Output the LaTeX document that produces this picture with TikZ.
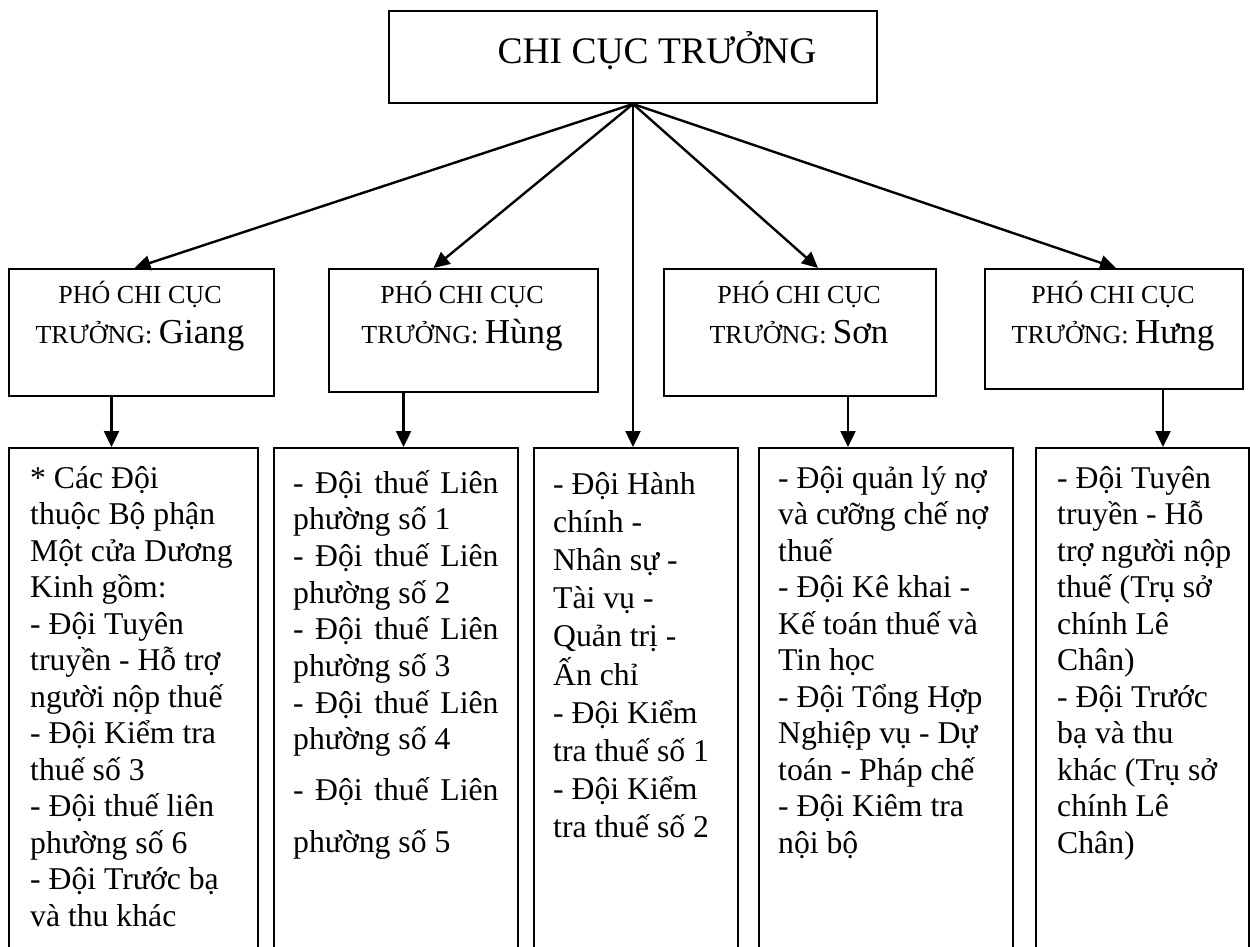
\documentclass[tikz,border=0pt]{standalone}
\usepackage{fontspec}
\setmainfont{Liberation Serif}
\usetikzlibrary{arrows.meta,calc}
\newcommand\labtext[1]{\vtop{\hsize=300pt\centering\fontsize{26}{40}\selectfont PHÓ CHI CỤC\par TRƯỞNG: {\fontsize{35}{40}\selectfont #1}\par}}
\newcommand\blk[2]{\vtop{\hsize=300pt\raggedright\fontsize{31.7}{#1}\selectfont #2\par}}
\newcommand\dtl{-\hspace{11.5pt}Đội\hspace{11.5pt}thuế\hspace{11.5pt}Liên}
\begin{document}
\begin{tikzpicture}[x=1pt,y=-1pt,
  box/.style={draw,line width=2pt,rectangle,inner sep=0pt,anchor=north west},
  arr/.style={line width=2.4pt,-{Triangle[length=16pt,width=15pt]}},
  lab/.style={inner sep=0pt,anchor=base},
  txt/.style={inner sep=0pt,anchor=base west}]
\useasboundingbox (0,0) rectangle (1250,946);
\fill[white] (0,0) rectangle (1250,946);
% top box
\node[box,minimum width=488pt,minimum height=92pt] (top) at (388,10) {};
\node[lab] (toptext) at (657,63) {\fontsize{37.5}{44}\selectfont CHI CỤC TRƯỞNG};
% deputy boxes
\node[box,minimum width=265pt,minimum height=127pt] (giang) at (8,268) {};
\node[box,minimum width=269pt,minimum height=123pt] (hung) at (328,268) {};
\node[box,minimum width=272pt,minimum height=127pt] (son) at (663,268) {};
\node[box,minimum width=258pt,minimum height=120pt] (hung2) at (984,268) {};
\node[lab] (lgiang) at (140,303) {\labtext{Giang}};
\node[lab] (lhung) at (462,303) {\labtext{Hùng}};
\node[lab] (lson) at (799,303) {\labtext{Sơn}};
\node[lab] (lhung2) at (1113,303) {\labtext{Hưng}};
% bottom boxes
\node[box,minimum width=249pt,minimum height=520pt] (b1) at (8,447) {};
\node[box,minimum width=244pt,minimum height=520pt] (b2) at (273,447) {};
\node[box,minimum width=204pt,minimum height=520pt] (b3) at (533,447) {};
\node[box,minimum width=254pt,minimum height=520pt] (b4) at (758,447) {};
\node[box,minimum width=213pt,minimum height=520pt] (b5) at (1035,447) {};
% texts
\node[txt] (t1) at (30,488) {\blk{36.5}{* Các Đội\\thuộc Bộ phận\\Một cửa Dương\\Kinh gồm:\\- Đội Tuyên\\truyền - Hỗ trợ\\người nộp thuế\\- Đội Kiểm tra\\thuế số 3\\- Đội thuế liên\\phường số 6\\- Đội Trước bạ\\và thu khác}};
\node[txt] (t2) at (293,493) {\blk{36.7}{\dtl\\phường số 1\\\dtl\\phường số 2\\\dtl\\phường số 3\\\dtl\\phường số 4\\[14pt]\dtl\\[15pt]phường số 5}};
\node[txt] (t3) at (553,494) {\blk{38.2}{- Đội Hành\\chính -\\Nhân sự -\\Tài vụ -\\Quản trị -\\Ấn chỉ\\- Đội Kiểm\\tra thuế số 1\\- Đội Kiểm\\tra thuế số 2}};
\node[txt] (t4) at (778,488) {\blk{36.5}{- Đội quản lý nợ\\và cưỡng chế nợ\\thuế\\- Đội Kê khai -\\Kế toán thuế và\\Tin học\\- Đội Tổng Hợp\\Nghiệp vụ - Dự\\toán - Pháp chế\\- Đội Kiêm tra\\nội bộ}};
\node[txt] (t5) at (1057,488) {\blk{36.5}{- Đội Tuyên\\truyền - Hỗ\\trợ người nộp\\thuế (Trụ sở\\chính Lê\\Chân)\\- Đội Trước\\bạ và thu\\khác (Trụ sở\\chính Lê\\Chân)}};
% connectors from top
\draw[arr] (top.south) -- ($(giang.north)+(-7,0)$);
\draw[arr] (top.south) -- ($(hung.north)+(-30,0)$);
\draw[arr] (top.south) -- (top.south |- b3.north);
\draw[arr] (top.south) -- ($(son.north)+(18,0)$);
\draw[arr] (top.south) -- ($(hung2.north)+(2,0)$);
% down connectors
\path ($(giang.south)+(-30,0)$) coordinate (gd);
\path ($(hung.south)+(-60,0)$) coordinate (hd);
\path ($(son.south)+(48,0)$) coordinate (sd);
\path ($(hung2.south)+(49,0)$) coordinate (h2d);
\draw[arr] (gd) -- (gd |- b1.north);
\draw[arr] (hd) -- (hd |- b2.north);
\draw[arr] (sd) -- (sd |- b4.north);
\draw[arr] (h2d) -- (h2d |- b5.north);
\end{tikzpicture}
\end{document}
